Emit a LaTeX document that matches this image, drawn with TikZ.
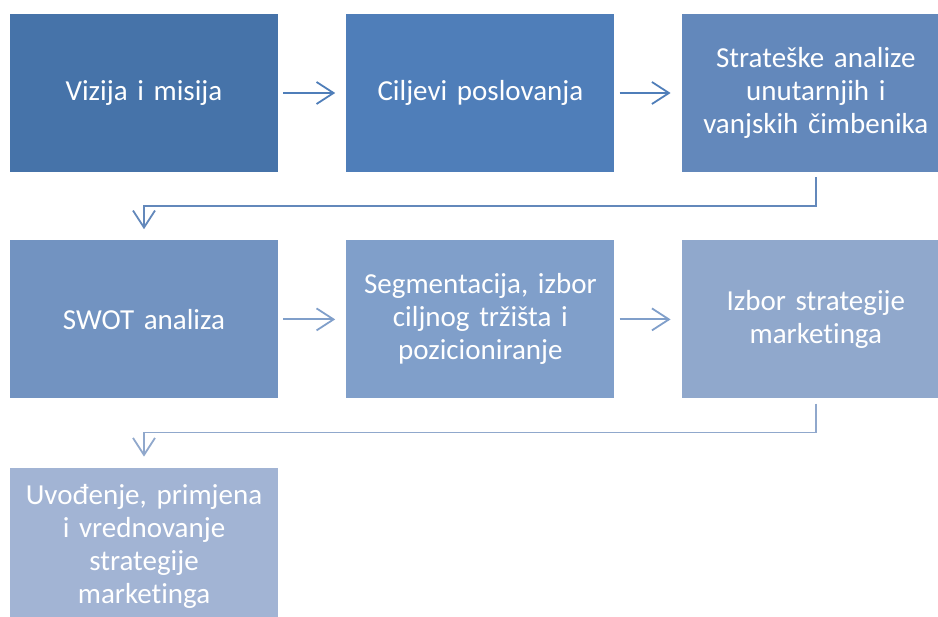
\documentclass[tikz,border=0pt]{standalone}
\usepackage{fontspec}
\setmainfont{Carlito}[Ligatures=NoCommon]
\usepackage{tikz}
\usetikzlibrary{arrows.meta}
\usetikzlibrary{positioning}

\definecolor{boxa}{HTML}{4673A9}
\definecolor{boxb}{HTML}{4F7EB9}
\definecolor{boxc}{HTML}{6388BB}
\definecolor{boxd}{HTML}{7293C1}
\definecolor{boxe}{HTML}{809FCA}
\definecolor{boxf}{HTML}{90A8CC}
\definecolor{boxg}{HTML}{A2B4D4}

\tikzset{
	korak/.style={fill=#1, draw=none, minimum width=268pt, minimum height=158pt, inner sep=0pt,
		text width=254pt, align=center, text=white, font=\fontsize{29pt}{33pt}\selectfont},
	veza/.style={draw=#1, line width=1.8pt, -{Straight Barb[length=17pt,width=22pt,line width=1.8pt]},
		shorten <=5pt, shorten >=11pt}
}

\begin{document}
\begin{tikzpicture}[x=1pt,y=-1pt]
	\useasboundingbox (0,0) rectangle (938,617);
	\node[korak=boxa] (a) at (144,93) {Vizija i misija};
	\node[korak=boxb, right=68pt of a] (b) {Ciljevi poslovanja};
	\node[korak=boxc, right=67pt of b] (c) {Strateške analize\\unutarnjih i\\vanjskih čimbenika};
	\node[korak=boxd, below=68pt of a] (d) {SWOT analiza};
	\node[korak=boxe, right=68pt of d] (e) {Segmentacija, izbor\\ciljnog tržišta i\\pozicioniranje};
	\node[korak=boxf, right=67pt of e] (f) {Izbor strategije\\marketinga};
	\node[korak=boxg, below=69pt of d] (g) {Uvođenje, primjena\\i vrednovanje\\strategije\\marketinga};

	\draw[veza=boxb] (a) -- (b);
	\draw[veza=boxb] (b) -- (c);
	\draw[veza=boxc] (c.south) -- ++(0,-34pt) -| (d.north);
	\draw[veza=boxe] (d) -- (e);
	\draw[veza=boxe] (e) -- (f);
	\draw[veza=boxf] (f.south) -- ++(0,-34pt) -| (g.north);
\end{tikzpicture}
\end{document}
